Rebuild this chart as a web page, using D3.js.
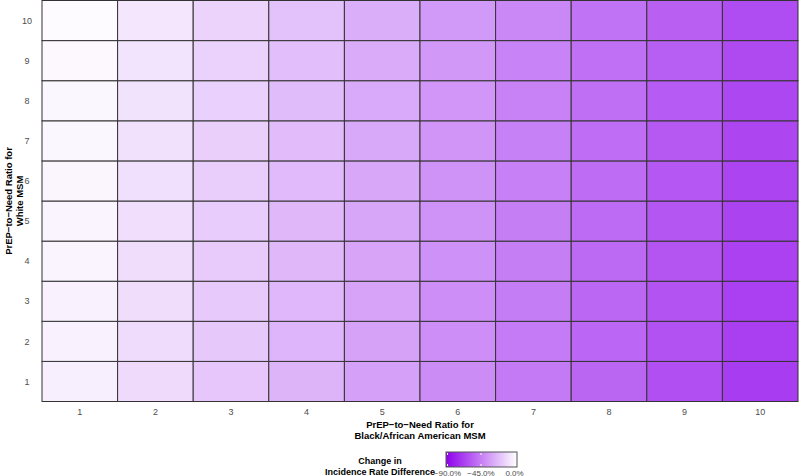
<!DOCTYPE html>
<html lang="en">
<head>
<meta charset="utf-8">
<title>PrEP-to-Need heatmap</title>
<style>
    body { margin: 0; background: #fff; }
    svg { display: block; font-family: "Liberation Sans", Arial, sans-serif; }
    .tick-label { font-size: 9px; fill: #4d4d4d; }
    .title { font-size: 9.5px; font-weight: bold; fill: #000; }
    .cell { stroke: #333; stroke-width: 1px; }
</style>
</head>
<body>
<script src="https://cdn.jsdelivr.net/npm/d3@7"></script>
<script>

    // ratio levels for both axes
    var blackRatios = [1, 2, 3, 4, 5, 6, 7, 8, 9, 10];
    var whiteRatios = [1, 2, 3, 4, 5, 6, 7, 8, 9, 10];

    // change in incidence rate difference (%), one row per white ratio, columns = black ratio
    var w1  = [-5.5, -13.0, -20.0, -26.5, -33.5, -40.5, -47.0, -54.5, -62.0, -69.0];
    var w2  = [-5.0, -12.5, -19.5, -26.0, -33.0, -40.0, -46.5, -54.0, -61.0, -68.0];
    var w3  = [-4.5, -12.0, -19.0, -25.5, -32.5, -39.5, -46.0, -53.5, -60.5, -67.5];
    var w4  = [-4.0, -12.0, -18.5, -25.0, -32.0, -39.0, -45.5, -53.0, -60.0, -67.0];
    var w5  = [-4.0, -11.5, -18.0, -25.0, -31.5, -38.5, -45.5, -52.5, -59.5, -66.5];
    var w6  = [-3.5, -11.0, -17.5, -24.5, -31.0, -38.0, -45.0, -52.0, -59.0, -66.0];
    var w7  = [-3.0, -10.5, -17.0, -24.0, -30.5, -37.5, -44.5, -51.5, -58.5, -65.5];
    var w8  = [-3.0, -10.0, -16.5, -23.5, -30.0, -37.0, -44.0, -51.0, -58.0, -65.0];
    var w9  = [-2.5,  -9.5, -16.0, -23.0, -29.5, -36.5, -43.5, -50.5, -57.0, -64.0];
    var w10 = [-1.5,  -8.5, -15.5, -22.0, -28.5, -35.5, -42.5, -49.5, -56.0, -63.0];
    var rows = [w1, w2, w3, w4, w5, w6, w7, w8, w9, w10];

    var legendTicks = [-90, -45, 0];

    var width = 800, height = 476;
    var plot = {left: 42, right: 798, top: 0.5, bottom: 401.5};

    var svg = d3.select("body").append("svg")
            .attr("width", width)
            .attr("height", height);

    var x = d3.scaleBand().domain(blackRatios).range([plot.left, plot.right]);
    var y = d3.scaleBand().domain(whiteRatios.slice().reverse()).range([plot.top, plot.bottom]);

    var color = d3.scaleLinear()
            .domain([-90, 0])
            .range(["#8e00ec", "#ffffff"]);

    // flatten into cells
    var cells = [];
    rows.forEach(function(r, i) {
        r.forEach(function(v, j) {
            cells.push({white: whiteRatios[i], black: blackRatios[j], value: v});
        });
    });

    svg.selectAll("rect.cell")
            .data(cells)
            .enter().append("rect")
            .attr("class", "cell")
            .attr("x", function(d) { return x(d.black); })
            .attr("y", function(d) { return y(d.white); })
            .attr("width", x.bandwidth())
            .attr("height", y.bandwidth())
            .attr("fill", function(d) { return color(d.value); });

    // tick labels
    svg.selectAll("text.xt")
            .data(blackRatios)
            .enter().append("text")
            .attr("class", "tick-label")
            .attr("x", function(d) { return x(d) + x.bandwidth() / 2; })
            .attr("y", 414.5)
            .attr("text-anchor", "middle")
            .text(function(d) { return d; });

    svg.selectAll("text.yt")
            .data(whiteRatios)
            .enter().append("text")
            .attr("class", "tick-label")
            .attr("x", 27)
            .attr("y", function(d) { return y(d) + y.bandwidth() / 2; })
            .attr("dy", ".35em")
            .attr("text-anchor", "middle")
            .text(function(d) { return d; });

    // axis titles
    var xt = svg.append("text")
            .attr("class", "title")
            .attr("text-anchor", "middle")
            .attr("y", 427.5);
    xt.append("tspan").attr("x", 420).text("PrEP\u2212to\u2212Need Ratio for");
    xt.append("tspan").attr("x", 420).attr("dy", 11).text("Black/African American MSM");

    var yt = svg.append("text")
            .attr("class", "title")
            .attr("text-anchor", "middle")
            .attr("transform", "translate(11.5,201) rotate(-90)");
    yt.append("tspan").attr("x", 0).text("PrEP\u2212to\u2212Need Ratio for");
    yt.append("tspan").attr("x", 0).attr("dy", 11.5).text("White MSM");

    // legend
    var lg = {x0: 446, x1: 517, y: 452, h: 15};
    var defs = svg.append("defs");
    var grad = defs.append("linearGradient").attr("id", "lgrad");
    grad.selectAll("stop")
            .data(d3.range(0, 1.01, 0.1))
            .enter().append("stop")
            .attr("offset", function(d) { return d * 100 + "%"; })
            .attr("stop-color", function(d) { return color(-90 + d * 90); });

    var lx = d3.scaleLinear().domain([-90, 0]).range([lg.x0 + 1.5, lg.x1 - 2.5]);

    svg.append("rect")
            .attr("x", lg.x0)
            .attr("y", lg.y)
            .attr("width", lg.x1 - lg.x0)
            .attr("height", lg.h)
            .attr("fill", "url(#lgrad)")
            .attr("stroke", "#555")
            .attr("stroke-width", 1);

    legendTicks.forEach(function(t) {
        svg.append("line")
                .attr("x1", lx(t)).attr("x2", lx(t))
                .attr("y1", lg.y + 1).attr("y2", lg.y + 3)
                .attr("stroke", "#fff");
        svg.append("line")
                .attr("x1", lx(t)).attr("x2", lx(t))
                .attr("y1", lg.y + lg.h - 3).attr("y2", lg.y + lg.h - 1)
                .attr("stroke", "#fff");
    });

    svg.selectAll("text.lt")
            .data(legendTicks)
            .enter().append("text")
            .attr("class", "tick-label")
            .style("font-size", "8px")
            .attr("x", function(d) { return lx(d); })
            .attr("y", 475.5)
            .attr("text-anchor", "middle")
            .text(function(d) { return d3.format(".1f")(d).replace("-", "\u2212") + "%"; });

    var lt = svg.append("text")
            .attr("class", "title")
            .style("font-size", "9px")
            .attr("text-anchor", "middle")
            .attr("y", 464);
    lt.append("tspan").attr("x", 380).text("Change in");
    lt.append("tspan").attr("x", 380).attr("dy", 10.5).text("Incidence Rate Difference");

</script>
</body>
</html>
